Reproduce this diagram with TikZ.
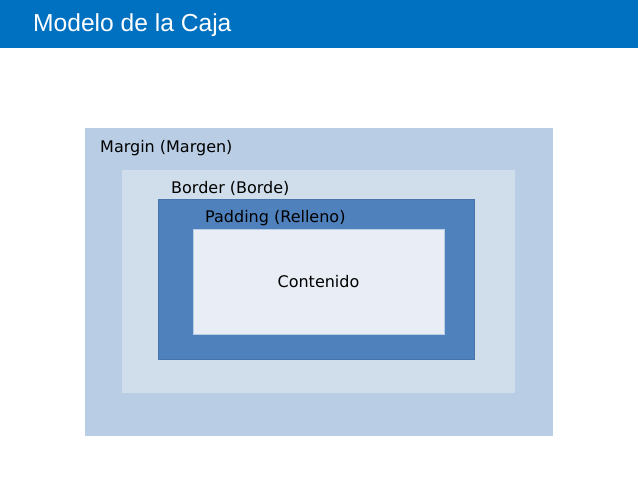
\documentclass[tikz,border=0pt]{standalone}
\usepackage{fontspec}
\setmainfont{DejaVu Sans}
\newfontfamily\titlefont{Liberation Sans}
\usepackage{tikz}
\usetikzlibrary{positioning}
\definecolor{cabecera}{RGB}{0,112,192}
\definecolor{margencol}{RGB}{185,205,229}
\definecolor{bordecol}{RGB}{208,222,236}
\definecolor{rellenocol}{RGB}{79,129,189}
\definecolor{contenidocol}{RGB}{233,238,246}

\begin{document}
\begin{tikzpicture}[x=1pt,y=-1pt]
    \tikzstyle{caja}=[shape=rectangle,inner sep=0pt,outer sep=0pt]
    \tikzstyle{rotulo}=[anchor=west,inner sep=0pt,font=\fontsize{16}{19}\selectfont]

    \useasboundingbox (0,0) rectangle (638,479);

    % cabecera
    \node[caja,fill=cabecera,minimum width=638pt,minimum height=48pt,anchor=north west] (barra) at (0,0) {};
    \node[anchor=west,inner sep=0pt,text=white,font=\titlefont\fontsize{24.6}{29}\selectfont] (titulo) at (33,25) {Modelo de la Caja};

    % las cajas
    \node[caja,fill=margencol,minimum width=468pt,minimum height=308pt,anchor=north west] (margen) at (85,128) {};
    \node[caja,fill=bordecol,minimum width=393pt,minimum height=223pt,anchor=north west] (borde) at (122,170) {};
    \node[caja,fill=rellenocol,draw=rellenocol!90!black,minimum width=316pt,minimum height=160pt,anchor=north west] (relleno) at (158,199) {};
    \node[caja,fill=contenidocol,draw=margencol,minimum width=251pt,minimum height=105pt,anchor=north west,
          font=\fontsize{16}{19}\selectfont] (contenido) at (193,229.5) {Contenido};

    \node[rotulo] (lmargen) at (100,148.5) {Margin (Margen)};
    \node[rotulo] (lborde) at (171,188) {Border (Borde)};
    \node[rotulo] (lrelleno) at (205,218) {Padding (Relleno)};
\end{tikzpicture}
\end{document}
